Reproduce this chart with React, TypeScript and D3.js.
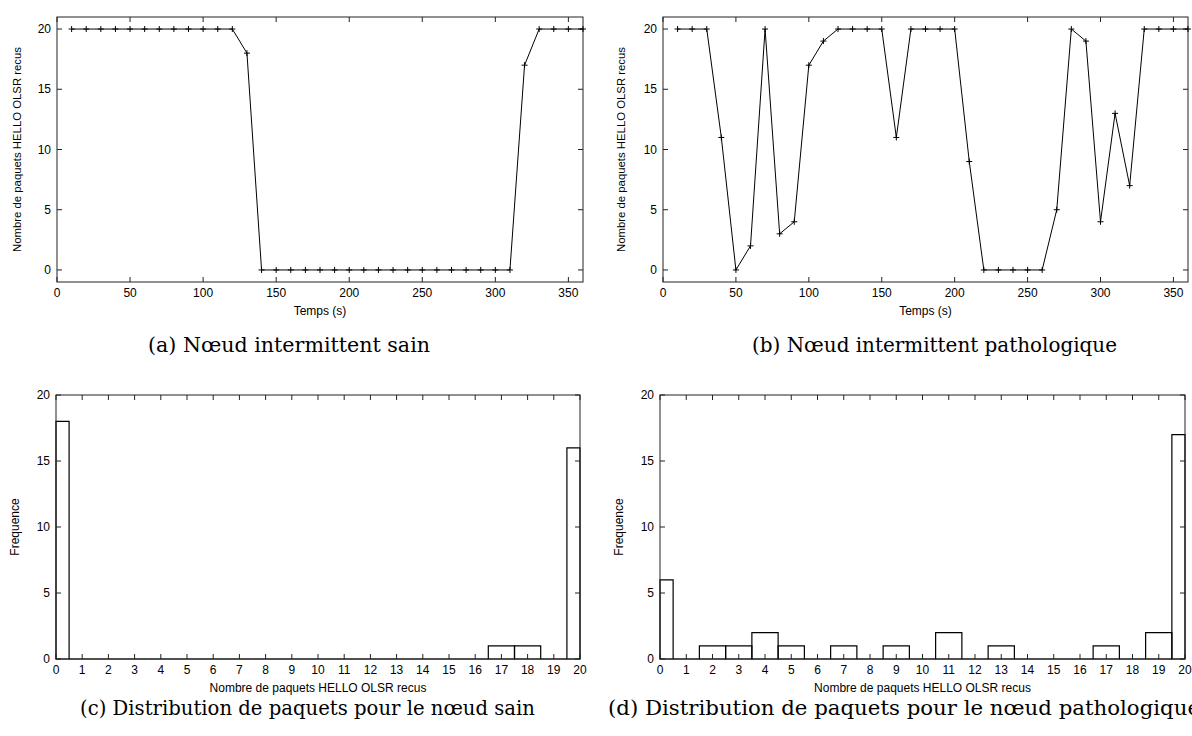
import React from "react";
import * as d3 from "d3";

const times = [10,20,30,40,50,60,70,80,90,100,110,120,130,140,150,160,170,180,190,200,210,220,230,240,250,260,270,280,290,300,310,320,330,340,350,360];
const sainValues = [20,20,20,20,20,20,20,20,20,20,20,20,18,0,0,0,0,0,0,0,0,0,0,0,0,0,0,0,0,0,0,17,20,20,20,20];
const pathoValues = [20,20,20,11,0,2,20,3,4,17,19,20,20,20,20,11,20,20,20,20,9,0,0,0,0,0,5,20,19,4,13,7,20,20,20,20];
const timeTicks = [0,50,100,150,200,250,300,350];
const countTicks = [0,5,10,15,20];
const binValues = d3.range(0, 21);

const yLabelTop = "Nombre de paquets HELLO OLSR recus";
const xLabelTop = "Temps (s)";
const yLabelBottom = "Frequence";
const xLabelBottom = "Nombre de paquets HELLO OLSR recus";
const captions = [
  "(a) Nœud intermittent sain",
  "(b) Nœud intermittent pathologique",
  "(c) Distribution de paquets pour le nœud sain",
  "(d) Distribution de paquets pour le nœud pathologique",
];

const AX = "#222";
const FONT = "Liberation Sans, Arial, sans-serif";

type Box = { x0: number; x1: number; y0: number; y1: number };

function Frame({ box, xs, ys, xt, yt }: { box: Box; xs: any; ys: any; xt: number[]; yt: number[] }) {
  const L = 5;
  return (
    <g>
      <rect x={box.x0} y={box.y0} width={box.x1 - box.x0} height={box.y1 - box.y0} fill="none" stroke={AX} strokeWidth={1} />
      {xt.map((t) => (
        <g key={"x" + t}>
          <line x1={xs(t)} x2={xs(t)} y1={box.y1} y2={box.y1 - L} stroke={AX} />
          <line x1={xs(t)} x2={xs(t)} y1={box.y0} y2={box.y0 + L} stroke={AX} />
          <text x={xs(t)} y={box.y1 + 15} textAnchor="middle" fontSize={12} fontFamily={FONT} fill="#000">{t}</text>
        </g>
      ))}
      {yt.map((t) => (
        <g key={"y" + t}>
          <line x1={box.x0} x2={box.x0 + L} y1={ys(t)} y2={ys(t)} stroke={AX} />
          <line x1={box.x1} x2={box.x1 - L} y1={ys(t)} y2={ys(t)} stroke={AX} />
          <text x={box.x0 - 6} y={ys(t) + 4} textAnchor="end" fontSize={12} fontFamily={FONT} fill="#000">{t}</text>
        </g>
      ))}
    </g>
  );
}

function LinePanel({ box, values, ylx }: { box: Box; values: number[]; ylx: number }) {
  const xs = d3.scaleLinear().domain([0, 360]).range([box.x0, box.x1]);
  const ys = d3.scaleLinear().domain([-1, 21]).range([box.y1, box.y0]);
  const pts = times.map((t, i) => [t, values[i]] as [number, number]);
  const line = d3.line<[number, number]>().x((d) => xs(d[0])).y((d) => ys(d[1]));
  const cy = (box.y0 + box.y1) / 2;
  return (
    <g>
      <Frame box={box} xs={xs} ys={ys} xt={timeTicks} yt={countTicks} />
      <path d={line(pts) || ""} fill="none" stroke="#000" strokeWidth={1} />
      {pts.map((p, i) => (
        <path key={i} d={`M${xs(p[0]) - 3},${ys(p[1])}H${xs(p[0]) + 3}M${xs(p[0])},${ys(p[1]) - 3}V${ys(p[1]) + 3}`} stroke="#000" strokeWidth={1} />
      ))}
      <text x={(box.x0 + box.x1) / 2} y={box.y1 + 33} textAnchor="middle" fontSize={12} fontFamily={FONT}>{xLabelTop}</text>
      <text transform={`translate(${ylx},${cy}) rotate(-90)`} textAnchor="middle" fontSize={11} fontFamily={FONT} dy="0.35em" textLength={205} lengthAdjust="spacingAndGlyphs">{yLabelTop}</text>
    </g>
  );
}

function HistPanel({ box, values, ylx }: { box: Box; values: number[]; ylx: number }) {
  const xs = d3.scaleLinear().domain([0, 20]).range([box.x0, box.x1]);
  const ys = d3.scaleLinear().domain([0, 20]).range([box.y1, box.y0]);
  const counts = d3.rollup(values, (v) => v.length, (d) => d);
  const cy = (box.y0 + box.y1) / 2;
  return (
    <g>
      {binValues.map((b) => {
        const c = counts.get(b) || 0;
        const a = xs(Math.max(0, b - 0.5));
        const e = xs(Math.min(20, b + 0.5));
        return <path key={b} d={`M${a},${ys(0)}V${ys(c)}H${e}V${ys(0)}Z`} fill="none" stroke="#000" strokeWidth={1.2} />;
      })}
      <Frame box={box} xs={xs} ys={ys} xt={binValues} yt={countTicks} />
      <text x={(box.x0 + box.x1) / 2} y={box.y1 + 33} textAnchor="middle" fontSize={12} fontFamily={FONT}>{xLabelBottom}</text>
      <text transform={`translate(${ylx},${cy}) rotate(-90)`} textAnchor="middle" fontSize={12} fontFamily={FONT} dy="0.35em">{yLabelBottom}</text>
    </g>
  );
}

export default function App() {
  const CF = "DejaVu Serif, serif";
  return (
    <svg width={1192} height={736} style={{ position: "absolute", left: 0, top: 0, background: "#fff" }}>
      <rect width={1192} height={736} fill="#fff" />
      <LinePanel box={{ x0: 57, x1: 583, y0: 17, y1: 282 }} values={sainValues} ylx={17} />
      <LinePanel box={{ x0: 663, x1: 1188, y0: 17, y1: 282 }} values={pathoValues} ylx={621} />
      <HistPanel box={{ x0: 56, x1: 580, y0: 395, y1: 659 }} values={sainValues} ylx={15} />
      <HistPanel box={{ x0: 660, x1: 1185, y0: 395, y1: 659 }} values={pathoValues} ylx={619} />
      <text x={148} y={352} fontSize={20} fontFamily={CF} textLength={282} lengthAdjust="spacingAndGlyphs">{captions[0]}</text>
      <text x={752} y={352} fontSize={20} fontFamily={CF} textLength={365} lengthAdjust="spacingAndGlyphs">{captions[1]}</text>
      <text x={80} y={715} fontSize={20} fontFamily={CF} textLength={455} lengthAdjust="spacingAndGlyphs">{captions[2]}</text>
      <text x={608} y={715} fontSize={20} fontFamily={CF} textLength={592} lengthAdjust="spacingAndGlyphs">{captions[3]}</text>
    </svg>
  );
}
